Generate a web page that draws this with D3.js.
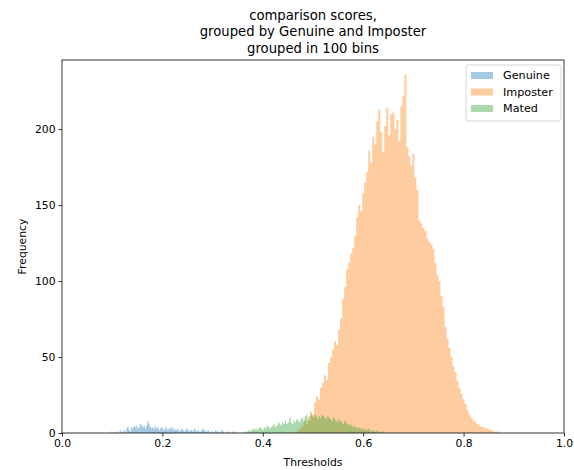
<!DOCTYPE html>
<html>
<head>
<meta charset="utf-8">
<script src="https://cdn.jsdelivr.net/npm/d3@7"></script>
<style>
  body { margin: 0; background: #fff; }
  svg { font-family: "DejaVu Sans", sans-serif; }
</style>
</head>
<body>
<div id="chart"></div>
<script>
// series ranges (each series cut into 100 bins over its own range)
const genuineRange = [0.095, 0.345];
const imposterRange = [0.470, 0.870];
const matedRange = [0.360, 0.640];

const genuineCounts = [
  1, 0, 0, 0, 1, 0, 1, 0, 2, 0,
  1, 2, 0, 3, 4, 2, 1, 4, 3, 5,
  4, 5, 3, 4, 6, 5, 4, 5, 3, 5,
  8, 6, 4, 3, 4, 3, 5, 3, 4, 2,
  3, 4, 3, 2, 4, 3, 2, 3, 3, 4,
  2, 3, 2, 2, 3, 1, 2, 3, 2, 1,
  2, 3, 2, 1, 2, 2, 1, 3, 2, 1,
  2, 1, 1, 2, 3, 2, 1, 1, 2, 1,
  0, 1, 1, 0, 2, 1, 1, 0, 1, 2,
  1, 0, 0, 1, 0, 1, 0, 0, 1, 1
];

const imposterCounts = [
  2, 3, 5, 8, 6, 11, 14, 12, 20, 24,
  22, 30, 33, 38, 35, 46, 50, 55, 60, 58,
  68, 75, 88, 96, 108, 112, 118, 122, 130, 142,
  150, 146, 158, 165, 172, 186, 178, 195, 190, 205,
  213, 198, 185, 202, 214, 196, 210, 211, 200, 206,
  192, 215, 222, 236, 188, 182, 176, 184, 168, 160,
  140, 138, 135, 133, 128, 126, 124, 121, 112, 104,
  100, 90, 83, 70, 62, 56, 50, 44, 40, 34,
  30, 26, 22, 19, 15, 12, 10, 8, 7, 6,
  5, 4, 4, 3, 3, 2, 2, 1, 1, 1
];

const matedCounts = [
  1, 0, 1, 1, 2, 1, 2, 3, 2, 3,
  2, 3, 4, 3, 2, 4, 3, 5, 4, 3,
  4, 5, 6, 4, 5, 7, 6, 5, 7, 6,
  8, 6, 7, 10, 7, 6, 8, 7, 9, 8,
  7, 9, 10, 8, 11, 12, 9, 8, 12, 11,
  10, 12, 11, 9, 11, 10, 12, 11, 10, 9,
  11, 10, 9, 8, 10, 9, 8, 7, 9, 8,
  7, 6, 8, 7, 6, 5, 6, 5, 4, 5,
  4, 3, 4, 3, 3, 2, 3, 2, 2, 3,
  2, 1, 2, 1, 1, 2, 1, 0, 1, 1
];

const seriesNames = ["Genuine", "Imposter", "Mated"];
const seriesColors = ["#1f77b4", "#ff7f0e", "#2ca02c"];
const xTicks = [0.0, 0.2, 0.4, 0.6, 0.8, 1.0];
const yTicks = [0, 50, 100, 150, 200];
const titleLines = ["comparison scores,", "grouped by Genuine and Imposter", "grouped in 100 bins"];

const W = 574, H = 470;
const margin = {top: 60, right: 10, bottom: 37, left: 62};
const iw = W - margin.left - margin.right;
const ih = H - margin.top - margin.bottom;

const svg = d3.select("#chart").append("svg")
    .attr("width", W)
    .attr("height", H);

const x = d3.scaleLinear().domain([0, 1]).range([0, iw]);
const y = d3.scaleLinear().domain([0, 245.5]).range([ih, 0]);

const g = svg.append("g")
    .attr("transform", `translate(${margin.left},${margin.top})`);

function binPoints(range, counts) {
  const step = (range[1] - range[0]) / counts.length;
  const pts = counts.map((c, i) => ({x: range[0] + i * step, c: c}));
  pts.push({x: range[1], c: counts[counts.length - 1]});
  return pts;
}

const area = d3.area()
    .curve(d3.curveStepAfter)
    .x(d => x(d.x))
    .y0(y(0))
    .y1(d => y(d.c));

const all = [
  binPoints(genuineRange, genuineCounts),
  binPoints(imposterRange, imposterCounts),
  binPoints(matedRange, matedCounts)
];

g.selectAll(".hist")
  .data(all)
  .enter().append("path")
    .attr("class", "hist")
    .attr("d", area)
    .attr("fill", (d, i) => seriesColors[i])
    .attr("fill-opacity", 0.4);

// axes
const xAxis = g.append("g")
    .attr("transform", `translate(0,${ih})`)
    .call(d3.axisBottom(x).tickValues(xTicks).tickFormat(d3.format(".1f")).tickSize(3.5).tickPadding(3));
const yAxis = g.append("g")
    .call(d3.axisLeft(y).tickValues(yTicks).tickSize(3.5).tickPadding(3));

[xAxis, yAxis].forEach(a => {
  a.select(".domain").remove();
  a.selectAll("text").attr("font-size", "10.8px").attr("fill", "#000").attr("font-family", "DejaVu Sans");
  a.selectAll("line").attr("stroke", "#000").attr("stroke-width", 0.8);
});

g.append("rect")
    .attr("width", iw)
    .attr("height", ih)
    .attr("fill", "none")
    .attr("stroke", "#000")
    .attr("stroke-width", 0.8);

// labels
svg.append("text")
    .attr("x", margin.left + iw / 2)
    .attr("y", H - 4)
    .attr("text-anchor", "middle")
    .attr("font-size", "10.8px")
    .text("Thresholds");

svg.append("text")
    .attr("transform", `translate(26,${margin.top + ih / 2}) rotate(-90)`)
    .attr("text-anchor", "middle")
    .attr("font-size", "10.8px")
    .text("Frequency");

svg.selectAll(".title")
  .data(titleLines)
  .enter().append("text")
    .attr("class", "title")
    .attr("x", margin.left + iw / 2)
    .attr("y", (d, i) => 19.5 + i * 16.5)
    .attr("text-anchor", "middle")
    .attr("font-size", "13.2px")
    .text(d => d);

// legend
const lg = g.append("g").attr("transform", `translate(${iw - 98},5)`);
lg.append("rect")
    .attr("width", 95)
    .attr("height", 56)
    .attr("rx", 2.5)
    .attr("fill", "#fff")
    .attr("fill-opacity", 0.8)
    .attr("stroke", "#ccc")
    .attr("stroke-width", 0.8);

const items = lg.selectAll(".item")
  .data(seriesNames)
  .enter().append("g")
    .attr("class", "item")
    .attr("transform", (d, i) => `translate(5,${10.5 + i * 16.5})`);
items.append("rect")
    .attr("y", -3.5)
    .attr("width", 22)
    .attr("height", 7)
    .attr("fill", (d, i) => seriesColors[i])
    .attr("fill-opacity", 0.4);
items.append("text")
    .attr("x", 32)
    .attr("dy", "0.35em")
    .attr("font-size", "11.2px")
    .text(d => d);
</script>
</body>
</html>
